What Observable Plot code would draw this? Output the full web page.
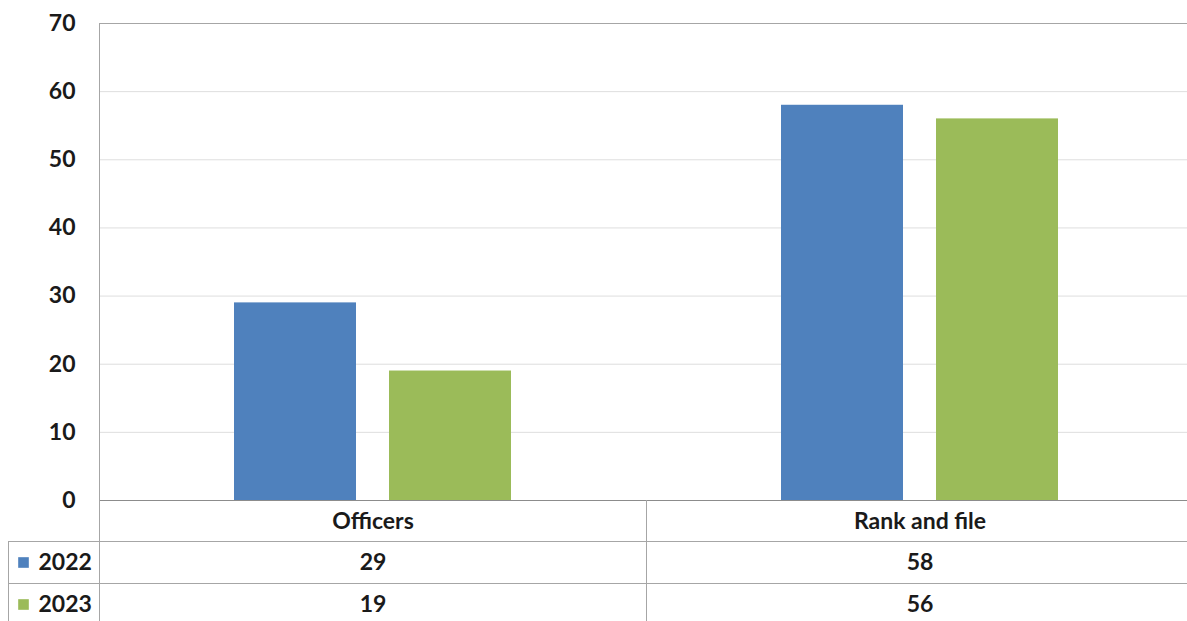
<!DOCTYPE html>
<html>
<head>
<meta charset="utf-8">
<script src="https://cdn.jsdelivr.net/npm/d3@7"></script>
<script src="https://cdn.jsdelivr.net/npm/@observablehq/plot@0.6"></script>
<style>
  html, body { margin: 0; padding: 0; background: #fff; overflow: hidden; }
  #chart svg { display: block; max-width: none !important; }
</style>
</head>
<body>
<div id="chart"></div>
<script>
const categories = ["Officers", "Rank and file"];
const years = ["2022", "2023"];
const values2022 = [29, 58];
const values2023 = [19, 56];
const yTicks = [0, 10, 20, 30, 40, 50, 60, 70];
const colors = ["#4F81BD", "#9BBB59"];

const data = [];
categories.forEach((c, i) => {
  data.push({category: c, year: "2022", value: values2022[i]});
  data.push({category: c, year: "2023", value: values2023[i]});
});

const font = "Lato, 'Noto Sans', sans-serif";
const textColor = "#1a1a1a";
const border = "#a6a6a6";
const grid = "#dedede";
const fs = 23;

const rowOffsets = {"2022": 62, "2023": 104};

const plot = Plot.plot({
  width: 1193,
  height: 621,
  marginLeft: 99,
  marginRight: 0,
  marginTop: 23,
  marginBottom: 121,
  style: {fontFamily: font, color: textColor, background: "#fff", maxWidth: "none"},
  fx: {domain: categories, padding: 0, axis: null},
  x: {domain: years, paddingInner: 0.213, paddingOuter: 0.871, axis: null},
  y: {domain: [0, 70], axis: null},
  color: {domain: years, range: colors},
  marks: [
    Plot.gridY(yTicks, {stroke: grid, strokeOpacity: 1}),
    Plot.frame({anchor: "top", stroke: border}),
    Plot.barY(data, {fx: "category", x: "year", y: "value", fill: "year"}),
    Plot.frame({anchor: "bottom", stroke: "#8c8c8c"}),
    // data table lines
    Plot.frame({anchor: "bottom", stroke: border, insetBottom: -41, insetLeft: -91}),
    Plot.frame({anchor: "bottom", stroke: border, insetBottom: -83, insetLeft: -91}),
    Plot.frame({anchor: "left", stroke: border, insetBottom: -121, fx: () => "Officers"}),
    Plot.frame({anchor: "left", stroke: border, insetTop: 477, insetBottom: -121, fx: () => "Rank and file"}),
    Plot.frame({anchor: "left", stroke: border, insetTop: 518, insetBottom: -121, insetLeft: -91, fx: () => "Officers"}),
    Plot.axisY({ticks: yTicks, label: null, tickSize: 0, tickPadding: 24, fontSize: fs, fontWeight: "bold", fill: textColor}),
    // category header row
    Plot.text(categories, {fx: d => d, text: d => d, frameAnchor: "bottom", dy: 21, lineAnchor: "middle", fontSize: fs, fontWeight: "bold", fill: textColor}),
    // value rows
    Plot.text(data, {fx: "category", text: "value", frameAnchor: "bottom", lineAnchor: "middle", fontSize: fs, fontWeight: "bold", fill: textColor, filter: d => d.year === "2022", dy: rowOffsets["2022"]}),
    Plot.text(data, {fx: "category", text: "value", frameAnchor: "bottom", lineAnchor: "middle", fontSize: fs, fontWeight: "bold", fill: textColor, filter: d => d.year === "2023", dy: rowOffsets["2023"]}),
    // row labels with legend squares
    Plot.dot(years, {fx: () => "Officers", fill: d => d, symbol: "square", r: 6, frameAnchor: "bottom-left", dx: -76, filter: d => d === "2022", dy: rowOffsets["2022"]}),
    Plot.dot(years, {fx: () => "Officers", fill: d => d, symbol: "square", r: 6, frameAnchor: "bottom-left", dx: -76, filter: d => d === "2023", dy: rowOffsets["2023"]}),
    Plot.text(years, {fx: () => "Officers", text: d => d, frameAnchor: "bottom-left", dx: -61, textAnchor: "start", lineAnchor: "middle", fontSize: fs, fontWeight: "bold", fill: textColor, filter: d => d === "2022", dy: rowOffsets["2022"]}),
    Plot.text(years, {fx: () => "Officers", text: d => d, frameAnchor: "bottom-left", dx: -61, textAnchor: "start", lineAnchor: "middle", fontSize: fs, fontWeight: "bold", fill: textColor, filter: d => d === "2023", dy: rowOffsets["2023"]})
  ]
});
document.getElementById("chart").appendChild(plot);
</script>
</body>
</html>
